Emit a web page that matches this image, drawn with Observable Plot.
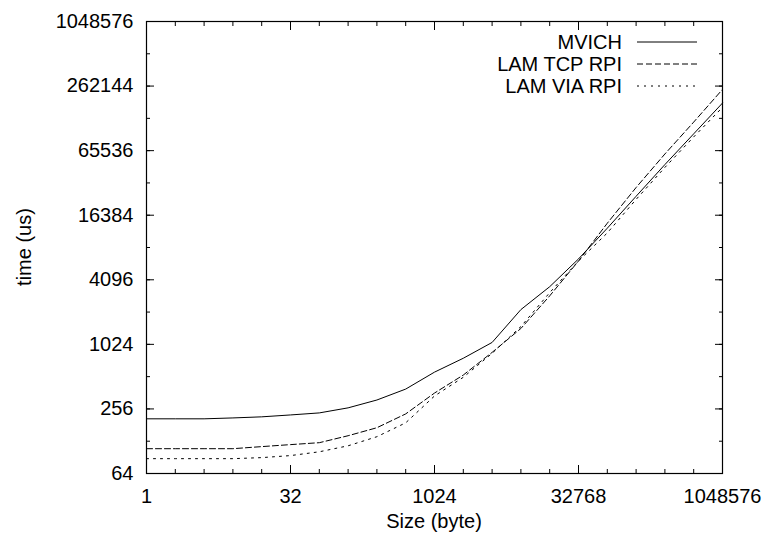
<!DOCTYPE html>
<html>
<head>
<meta charset="utf-8">
<script src="https://cdn.jsdelivr.net/npm/d3@7"></script>
<script src="https://cdn.jsdelivr.net/npm/@observablehq/plot@0.6"></script>
<style>
  html, body { margin: 0; padding: 0; background: white; }
  #chart svg { display: block; }
</style>
</head>
<body>
<div id="chart"></div>
<script>
// Message sizes (bytes)
const sizes = [1, 2, 4, 8, 16, 32, 64, 128, 256, 512, 1024, 2048, 4096, 8192,
  16384, 32768, 65536, 131072, 262144, 524288, 1048576];

// Times (us)
const mvich = [207, 207, 207, 211, 216, 225, 235, 262, 310, 392, 564, 760, 1067,
  2160, 3530, 6410, 12400, 24600, 48600, 94000, 182000];
const lamTcp = [109, 109, 109, 109, 114, 119, 124, 144, 171, 230, 360, 530, 862,
  1440, 2900, 6130, 13800, 29700, 61000, 121000, 244000];
const lamVia = [88, 88, 88, 88, 90, 94, 102, 116, 141, 190, 338, 505, 845,
  1500, 3110, 6130, 11200, 23000, 45700, 88000, 166000];

const seriesNames = ["MVICH", "LAM TCP RPI", "LAM VIA RPI"];
const seriesDash = ["none", "6,3", "2,5"];

// Axis ticks
const xMajorTicks = [1, 32, 1024, 32768, 1048576];
const xMinorTicks = [1, 2, 4, 8, 16, 32, 64, 128, 256, 512, 1024, 2048, 4096, 8192,
  16384, 32768, 65536, 131072, 262144, 524288, 1048576];
const yMajorTicks = [64, 256, 1024, 4096, 16384, 65536, 262144, 1048576];
const yMinorTicks = [64, 128, 256, 512, 1024, 2048, 4096, 8192, 16384, 32768,
  65536, 131072, 262144, 524288, 1048576];

const xTitle = "Size (byte)";
const yTitle = "time (us)";

const seriesValues = [mvich, lamTcp, lamVia];
const data = [];
seriesNames.forEach((name, i) => {
  sizes.forEach((s, j) => data.push({series: name, size: s, time: seriesValues[i][j]}));
});

const W = 763, H = 539;
const mL = 146, mR = 41, mT = 21, mB = 66;
const FONT = "'Liberation Sans', Arial, sans-serif";
const FS = 20;

const noText = () => "";

const plot = Plot.plot({
  width: W,
  height: H,
  marginLeft: mL,
  marginRight: mR,
  marginTop: mT,
  marginBottom: mB,
  style: {fontFamily: FONT, fontSize: FS + "px", background: "white", color: "black"},
  x: {type: "log", base: 2, domain: [1, 1048576], axis: null},
  y: {type: "log", base: 2, domain: [64, 1048576], axis: null},
  marks: [
    // minor ticks (inward) on all four sides
    Plot.axisX({anchor: "bottom", ticks: xMinorTicks, tickSize: -4, tickFormat: noText, label: null}),
    Plot.axisX({anchor: "top", ticks: xMinorTicks, tickSize: -4, tickFormat: noText, label: null}),
    Plot.axisY({anchor: "left", ticks: yMinorTicks, tickSize: -4, tickFormat: noText, label: null}),
    Plot.axisY({anchor: "right", ticks: yMinorTicks, tickSize: -4, tickFormat: noText, label: null}),
    // major ticks (inward)
    Plot.axisX({anchor: "bottom", ticks: xMajorTicks, tickSize: -8, tickFormat: noText, label: null}),
    Plot.axisX({anchor: "top", ticks: xMajorTicks, tickSize: -8, tickFormat: noText, label: null}),
    Plot.axisY({anchor: "left", ticks: yMajorTicks, tickSize: -8, tickFormat: noText, label: null}),
    Plot.axisY({anchor: "right", ticks: yMajorTicks, tickSize: -8, tickFormat: noText, label: null}),
    // tick labels
    Plot.axisX({anchor: "bottom", ticks: xMajorTicks, tickSize: 0, tickPadding: 15, tickFormat: d => String(d), label: null, fontSize: FS}),
    Plot.axisY({anchor: "left", ticks: yMajorTicks, tickSize: 0, tickPadding: 13, tickFormat: d => String(d), label: null, fontSize: FS}),
    Plot.frame({stroke: "black", strokeWidth: 1.2}),
    // data lines
    ...seriesNames.map((name, i) => Plot.line(data.filter(d => d.series === name), {
      x: "size", y: "time", stroke: "black", strokeWidth: 1,
      strokeDasharray: seriesDash[i] === "none" ? undefined : seriesDash[i]
    }))
  ]
});

document.getElementById("chart").appendChild(plot);

const svg = d3.select(plot);
const plotLeft = mL, plotRight = W - mR, plotTop = mT, plotBottom = H - mB;

// Axis titles
svg.append("text")
  .attr("x", (plotLeft + plotRight) / 2)
  .attr("y", 528)
  .attr("text-anchor", "middle")
  .attr("font-family", FONT)
  .attr("font-size", FS)
  .attr("fill", "black")
  .text(xTitle);
svg.append("text")
  .attr("transform", `translate(24,${(plotTop + plotBottom) / 2}) rotate(-90)`)
  .attr("dy", "0.35em")
  .attr("text-anchor", "middle")
  .attr("font-family", FONT)
  .attr("font-size", FS)
  .attr("fill", "black")
  .text(yTitle);

// Legend inside the plot frame (top right), gnuplot style
const legend = svg.append("g").attr("class", "legend");
const textEnd = plotRight - 100;
const sampleX1 = plotRight - 85;
const sampleX2 = plotRight - 25;
const rowY0 = plotTop + 21;
const rowStep = 22;
seriesNames.forEach((name, i) => {
  const y = rowY0 + i * rowStep;
  legend.append("text")
    .attr("x", textEnd)
    .attr("y", y)
    .attr("dy", "0.35em")
    .attr("text-anchor", "end")
    .attr("font-family", FONT)
    .attr("font-size", FS)
    .attr("fill", "black")
    .text(name);
  const line = legend.append("line")
    .attr("x1", sampleX1).attr("x2", sampleX2)
    .attr("y1", y).attr("y2", y)
    .attr("stroke", "black").attr("stroke-width", 1);
  if (seriesDash[i] !== "none") line.attr("stroke-dasharray", seriesDash[i]);
});
</script>
</body>
</html>
